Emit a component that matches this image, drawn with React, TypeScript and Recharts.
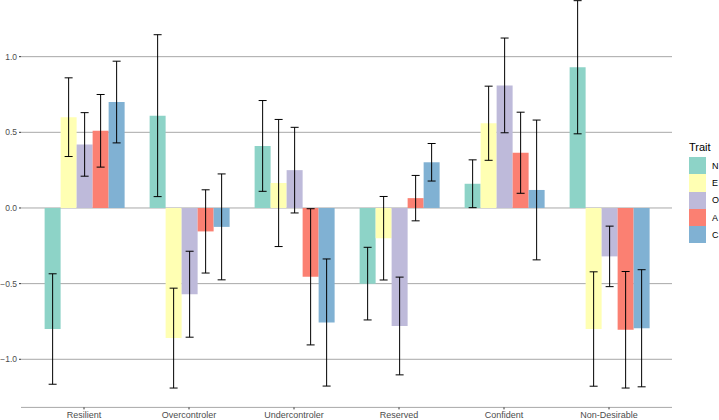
import React from 'react';
import {
  BarChart,
  Bar,
  XAxis,
  YAxis,
  CartesianGrid,
  Legend,
  ErrorBar
} from 'recharts';

const categories = ['Resilient', 'Overcontroler', 'Undercontroler', 'Reserved', 'Confident', 'Non-Desirable'];
const traits = ['N', 'E', 'O', 'A', 'C'];
const traitColors = ['#8DD3C7', '#FFFFB3', '#BEBADA', '#FB8072', '#80B1D3'];

// mean scores per profile
const nMean = [-0.8, 0.61, 0.41, -0.5, 0.16, 0.93];
const eMean = [0.6, -0.86, 0.165, -0.2, 0.56, -0.8];
const oMean = [0.42, -0.57, 0.25, -0.78, 0.81, -0.32];
const aMean = [0.51, -0.155, -0.455, 0.065, 0.365, -0.805];
const cMean = [0.7, -0.125, -0.757, 0.302, 0.119, -0.795];

// error bar half widths
const nErr = [0.365, 0.535, 0.3, 0.24, 0.158, 0.44];
const eErr = [0.26, 0.33, 0.42, 0.276, 0.245, 0.378];
const oErr = [0.21, 0.284, 0.283, 0.323, 0.313, 0.2];
const aErr = [0.24, 0.275, 0.45, 0.15, 0.268, 0.385];
const cErr = [0.27, 0.35, 0.42, 0.124, 0.462, 0.387];

const yTicks = [-1, -0.5, 0, 0.5, 1];

const means = [nMean, eMean, oMean, aMean, cMean];
const errs = [nErr, eErr, oErr, aErr, cErr];

const data = categories.map((cat, i) => {
  const row: Record<string, string | number> = { profile: cat };
  traits.forEach((t, j) => {
    row[t] = means[j][i];
    row[t + '_err'] = errs[j][i];
  });
  return row;
});

const fmt = (v: number) => v.toFixed(1).replace('-', '\u2212');

const TraitLegend = () => (
  <div style={{ fontFamily: 'Liberation Sans, Arial, sans-serif', textAlign: 'left' }}>
    <div style={{ fontSize: 11, color: '#000', marginBottom: 4 }}>Trait</div>
    {traits.map((t, i) => (
      <div key={t} style={{ display: 'flex', alignItems: 'center', height: 17.3 }}>
        <div style={{ width: 17, height: 17.3, background: traitColors[i] }} />
        <span style={{ fontSize: 9, color: '#000', marginLeft: 6 }}>{t}</span>
      </div>
    ))}
  </div>
);

const App: React.FC = () => {
  return (
    <div style={{ position: 'absolute', left: 0, top: 0, width: 719, height: 420, overflow: 'hidden', background: '#fff' }}>
      <div style={{ position: 'absolute', left: 0, top: -19 }}>
        <BarChart
          width={719}
          height={450}
          data={data}
          margin={{ top: 0, right: 47, left: 0, bottom: 0 }}
          barCategoryGap="12.5%"
          barGap={0}
        >
          <CartesianGrid vertical={false} stroke="#A8A8A8" strokeWidth={1} />
          <XAxis
            dataKey="profile"
            height={23.6}
            axisLine={false}
            padding={{ left: 10.5, right: 10.5 }}
            tickSize={2}
            tickMargin={2}
            tickLine={{ stroke: '#333' }}
            interval={0}
            tick={{ fontSize: 9, fill: '#4D4D4D', fontFamily: 'Liberation Sans, Arial, sans-serif' }}
          />
          <YAxis
            width={21}
            domain={[-1.318, 1.5]}
            ticks={yTicks}
            axisLine={false}
            tickSize={2}
            tickMargin={2}
            tickLine={{ stroke: '#333' }}
            tickFormatter={fmt}
            tick={{ fontSize: 8.5, fill: '#4D4D4D', fontFamily: 'Liberation Sans, Arial, sans-serif' }}
          />
          <Legend
            layout="vertical"
            align="center"
            verticalAlign="middle"
            content={() => <TraitLegend />}
            wrapperStyle={{ left: 689, top: 160, width: 30 }}
          />
          {traits.map((t, i) => (
            <Bar key={t} dataKey={t} fill={traitColors[i]} isAnimationActive={false}>
              <ErrorBar dataKey={t + '_err'} width={4} stroke="#000" strokeWidth={1} />
            </Bar>
          ))}
        </BarChart>
      </div>
    </div>
  );
};

export default App;
